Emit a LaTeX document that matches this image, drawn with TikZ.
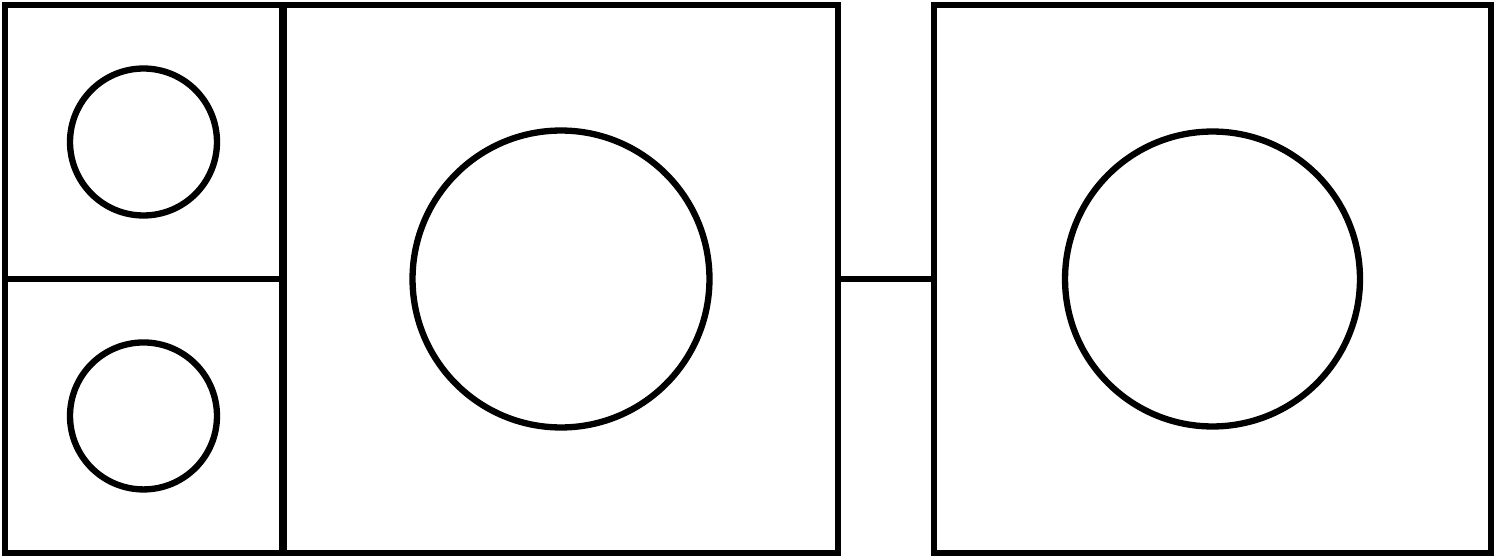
\documentclass[tikz,border=0pt]{standalone}
\usetikzlibrary{positioning}
\tikzstyle{cell} = [rectangle, draw=black, line width=3.6pt, inner sep=0pt, outer sep=0pt]
\tikzstyle{disk} = [circle, draw=black, line width=3.6pt, inner sep=0pt]
\tikzstyle{link} = [draw=black, line width=3.6pt]
\begin{document}
\begin{tikzpicture}[x=0.02cm, y=-0.02cm]
		\useasboundingbox (0,0) rectangle (1496,560);
		% left column
		\node (top_cell) [cell, minimum width=5.54cm, minimum height=5.48cm] at (143.5,142) {};
		\node (bottom_cell) [cell, minimum width=5.54cm, minimum height=5.48cm, below=0cm of top_cell] {};
		\node (top_disk) [disk, minimum size=2.94cm] at (top_cell) {};
		\node (bottom_disk) [disk, minimum size=2.94cm] at (bottom_cell) {};
		
		% middle and right
		\node (mid_cell) [cell, minimum width=11.08cm, minimum height=10.96cm] at (561,279) {};
		\node (mid_disk) [disk, minimum size=5.94cm] at (mid_cell) {};
		\node (right_cell) [cell, minimum width=11.14cm, minimum height=10.96cm] at (1212.5,279) {};
		\node (right_disk) [disk, minimum size=5.90cm] at (right_cell) {};
		\draw [link] (mid_cell.east) -- (right_cell.west);
	\end{tikzpicture}
\end{document}
